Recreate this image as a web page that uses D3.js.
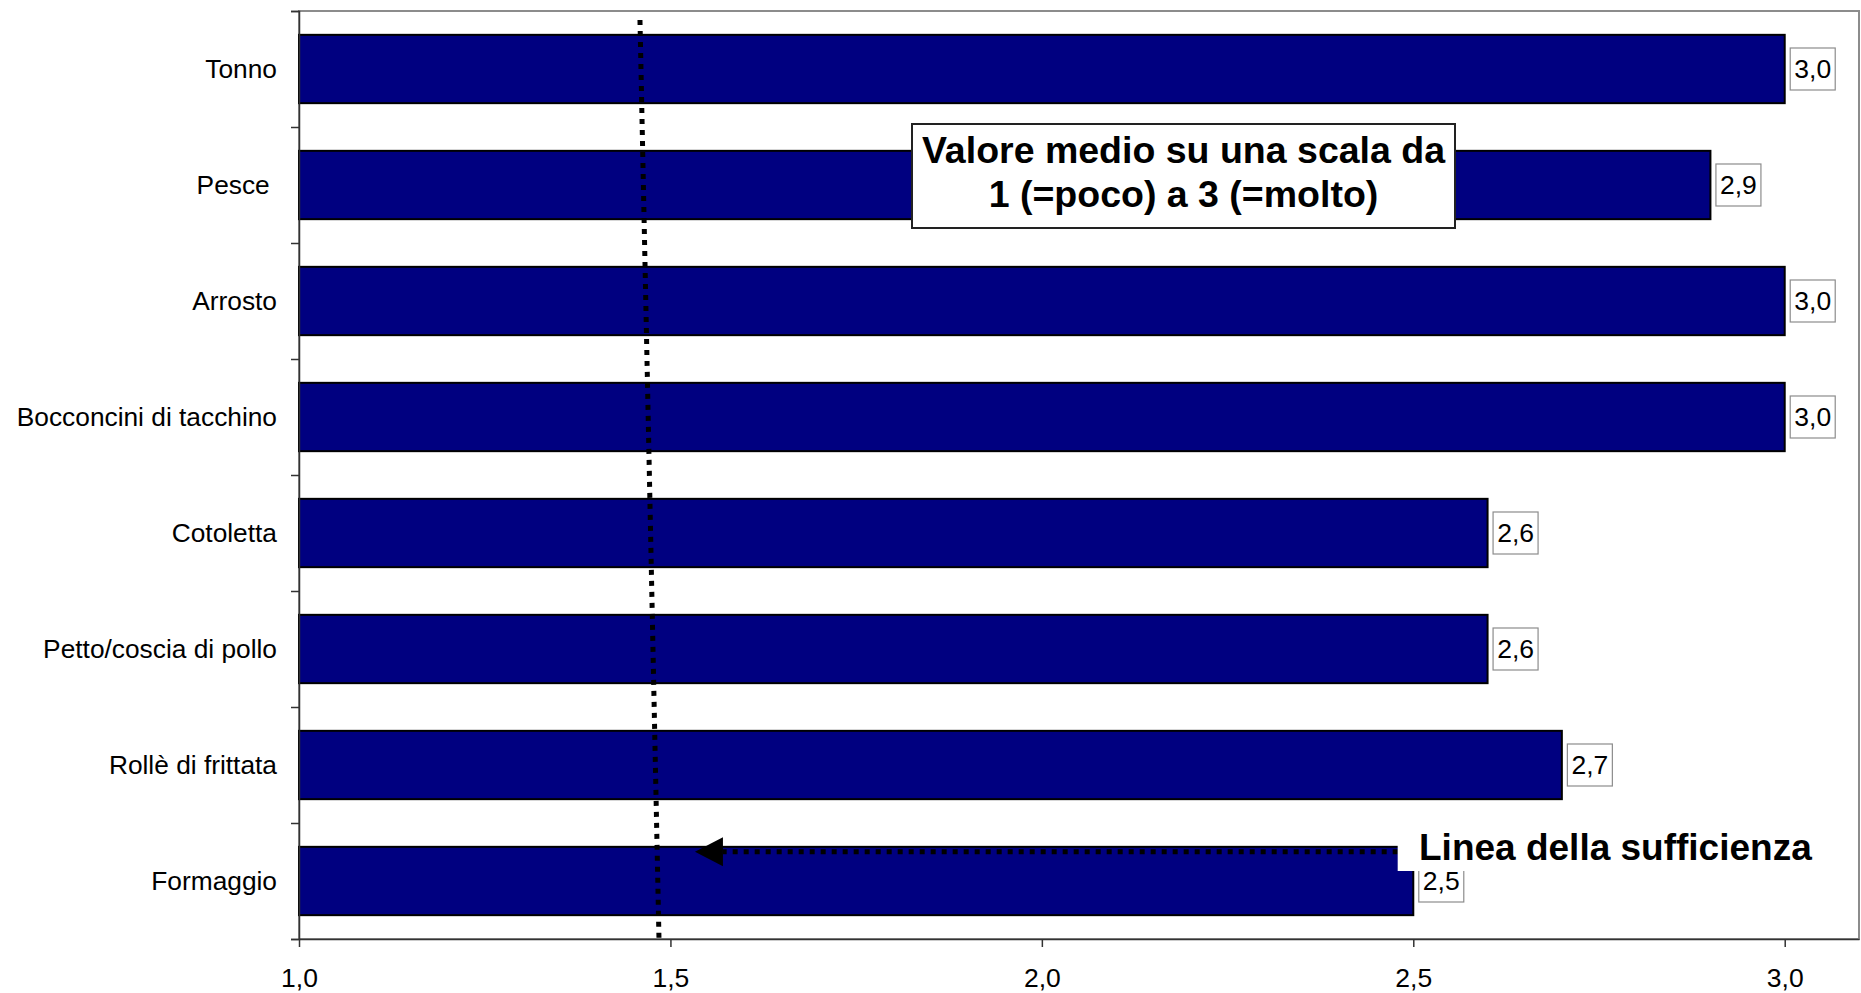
<!DOCTYPE html>
<html>
<head>
<meta charset="utf-8">
<script src="https://cdn.jsdelivr.net/npm/d3@7/dist/d3.min.js"></script>
<style>
  html, body { margin: 0; padding: 0; background: #fff; }
  svg { display: block; }
  text { font-family: "Liberation Sans", Arial, sans-serif; }
</style>
</head>
<body>
<svg id="chart" width="1861" height="993"></svg>
<script>
// ---- data ----
const categories = ["Tonno", "Pesce ", "Arrosto", "Bocconcini di tacchino", "Cotoletta", "Petto/coscia di pollo", "Rollè di frittata", "Formaggio"];
const values = [3.0, 2.9, 3.0, 3.0, 2.6, 2.6, 2.7, 2.5];
const xTicks = [1.0, 1.5, 2.0, 2.5, 3.0];
const xTickLabels = ["1,0", "1,5", "2,0", "2,5", "3,0"];
const xDomain = [1.0, 3.1];
const noteLines = ["Valore medio su una scala da", "1 (=poco) a 3 (=molto)"];
const sufficiencyLabel = "Linea della sufficienza";
const sufficiencyLine = [1.459, 1.4846];   // hand-drawn line, value at top / bottom
const arrowSpan = [2.479, 1.533];          // arrow from -> to (value units)

// ---- layout ----
const plot = { left: 299, right: 1859, top: 11, bottom: 939 };
const fmt = v => d3.format(".1f")(v).replace(".", ",");

const svg = d3.select("#chart");

const x = d3.scaleLinear().domain(xDomain).range([plot.left, plot.right]);
const y = d3.scaleBand().domain(categories).range([plot.top, plot.bottom])
  .paddingInner(0.411).paddingOuter(0.2055);
const yIdx = d3.scaleLinear().domain([0, categories.length]).range([plot.top, plot.bottom]);

// plot area border (top/right grey)
svg.append("rect")
  .attr("x", plot.left).attr("y", plot.top)
  .attr("width", plot.right - plot.left).attr("height", plot.bottom - plot.top)
  .attr("fill", "none").attr("stroke", "#8c8c8c").attr("stroke-width", 2);

// bars
svg.append("g").selectAll("rect").data(categories).join("rect")
  .attr("x", x(xDomain[0]))
  .attr("y", d => y(d))
  .attr("width", (d, i) => x(values[i]) - x(xDomain[0]))
  .attr("height", y.bandwidth())
  .attr("fill", "#000080")
  .attr("stroke", "#000").attr("stroke-width", 2);

// y axis (ticks at category boundaries)
const yAxis = svg.append("g").attr("transform", `translate(${plot.left},0)`)
  .call(d3.axisLeft(yIdx).tickValues(d3.range(0, categories.length + 1)).tickSize(8).tickFormat(""));
yAxis.selectAll("path, line").attr("stroke", "#333").attr("stroke-width", 1.5);

// category labels
svg.append("g").selectAll("text").data(categories).join("text")
  .attr("x", 277)
  .attr("y", d => y(d) + y.bandwidth() / 2)
  .attr("dy", "0.35em")
  .attr("text-anchor", "end")
  .style("white-space", "pre")
  .attr("font-size", 26.3)
  .attr("fill", "#000")
  .text(d => d);

// x axis
const xAxis = svg.append("g").attr("transform", `translate(0,${plot.bottom})`)
  .call(d3.axisBottom(x).tickValues(xTicks).tickFormat((d, i) => xTickLabels[i]).tickSize(8).tickSizeOuter(0).tickPadding(21));
xAxis.select(".domain").attr("stroke", "#333").attr("stroke-width", 1.5);
xAxis.selectAll("line").attr("stroke", "#333").attr("stroke-width", 1.5);
xAxis.selectAll("text").attr("font-size", 26.5).attr("fill", "#000")
  .style("font-family", '"Liberation Sans", Arial, sans-serif');

// sufficiency dotted vertical line
svg.append("line")
  .attr("x1", x(sufficiencyLine[0])).attr("y1", plot.top + 9)
  .attr("x2", x(sufficiencyLine[1])).attr("y2", plot.bottom)
  .attr("stroke", "#000").attr("stroke-width", 5)
  .attr("stroke-dasharray", "5 6");

// value labels
const lab = svg.append("g").selectAll("g").data(categories).join("g")
  .attr("transform", (d, i) => `translate(${x(values[i]) + 5.5},${y(d) + y.bandwidth() / 2})`);
lab.append("rect")
  .attr("x", 0).attr("y", -21).attr("width", 45).attr("height", 42)
  .attr("fill", "#fff").attr("stroke", "#8c8c8c").attr("stroke-width", 1.2);
lab.append("text")
  .attr("x", 22.5).attr("y", 0).attr("dy", "0.35em")
  .attr("text-anchor", "middle").attr("font-size", 26.5).attr("fill", "#000")
  .text((d, i) => fmt(values[i]));

// note box
const noteBox = { x: 912, y: 124, w: 543, h: 104 };
svg.append("rect")
  .attr("x", noteBox.x).attr("y", noteBox.y).attr("width", noteBox.w).attr("height", noteBox.h)
  .attr("fill", "#fff").attr("stroke", "#222").attr("stroke-width", 2);
svg.append("g").selectAll("text").data(noteLines).join("text")
  .attr("x", noteBox.x + noteBox.w / 2)
  .attr("y", (d, i) => 163 + i * 44)
  .attr("text-anchor", "middle")
  .attr("font-size", 37.5).attr("font-weight", "bold").attr("fill", "#000")
  .text(d => d);

// arrow (dotted line + head)
const lastCat = categories[categories.length - 1];
const arrowY = y(lastCat) + 5;
const tipX = x(arrowSpan[1]);
svg.append("line")
  .attr("x1", x(arrowSpan[0])).attr("y1", arrowY)
  .attr("x2", tipX + 28).attr("y2", arrowY)
  .attr("stroke", "#000").attr("stroke-width", 5)
  .attr("stroke-dasharray", "5 6");
svg.append("path")
  .attr("d", `M${tipX},${arrowY} L${tipX + 28},${arrowY - 14.5} L${tipX + 28},${arrowY + 14.5} Z`)
  .attr("fill", "#000");

// white text box for sufficiency label
svg.append("rect")
  .attr("x", x(arrowSpan[0])).attr("y", 818)
  .attr("width", 440).attr("height", 871 - 818)
  .attr("fill", "#fff");
svg.append("text")
  .attr("x", 1419).attr("y", 860)
  .attr("font-size", 37).attr("font-weight", "bold").attr("fill", "#000")
  .text(sufficiencyLabel);
</script>
</body>
</html>
